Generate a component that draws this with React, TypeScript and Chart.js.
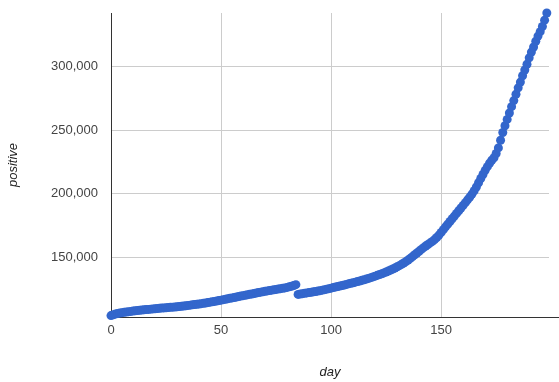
import React, { useEffect, useRef } from 'react';
import { Chart, registerables } from 'chart.js';

Chart.register(...registerables);

// positive cases per day (day = index, starting at 0)
const positive = [
  104700, 105400, 105900, 106300, 106700, 107000, 107300, 107500, 107800, 108000,
  108200, 108400, 108600, 108800, 109000, 109200, 109400, 109550, 109750, 109950,
  110100, 110250, 110400, 110550, 110700, 110850, 111000, 111150, 111300, 111450,
  111650, 111850, 112050, 112250, 112450, 112650, 112850, 113100, 113300, 113550,
  113800, 114050, 114300, 114600, 114900, 115200, 115500, 115800, 116100, 116450,
  116800, 117150, 117500, 117850, 118200, 118550, 118900, 119250, 119600, 119950,
  120300, 120650, 121000, 121350, 121650, 122000, 122350, 122700, 123050, 123400,
  123700, 124000, 124300, 124600, 124900, 125200, 125500, 125800, 126100, 126400,
  126750, 127200, 127700, 128200, 128900,
  121300, 121600, 121900, 122200, 122450, 122700, 123000, 123300, 123600, 123900,
  124200, 124600, 125000, 125400, 125800, 126200,
  126600, 127000, 127400, 127800, 128200, 128650, 129100, 129550, 130000, 130450,
  130900, 131350, 131800, 132300, 132800, 133300, 133800, 134400, 135000, 135600,
  136200, 136800, 137400, 138100, 138800, 139600, 140400, 141200, 142000, 142900,
  143800, 144800, 145900, 147000, 148200, 149500, 150900, 152300, 153700, 155100,
  156500, 157900, 159200, 160400, 161600, 162800, 164200, 165800, 167700, 169800,
  172000, 174200, 176300, 178400, 180500, 182600, 184700, 186800, 188900, 191000,
  193100, 195300, 197500, 199800, 202400, 205400, 208700, 212000, 215200, 218400,
  221300, 224000, 226300, 228300, 231600, 236000, 242000, 248000, 253300, 258300,
  263300, 268300, 273000, 278000, 283000, 287500, 292500, 297000, 301500, 306500,
  311000, 315000, 319500, 323500, 327000, 331000, 336000, 341600,
];

const xTicks = [0, 50, 100, 150];
const yTicks = [150000, 200000, 250000, 300000];

const FONT = '"Liberation Sans", Arial, sans-serif';

export default function App() {
  const ref = useRef<HTMLCanvasElement | null>(null);

  useEffect(() => {
    document.body.style.margin = '0';
    const canvas = ref.current;
    if (!canvas) return;

    const baselineExt = {
      id: 'baselineExt',
      afterDraw(chart: any) {
        const { ctx, chartArea, width } = chart;
        const y = Math.round(chartArea.bottom) + 0.5;
        ctx.save();
        ctx.strokeStyle = '#333333';
        ctx.lineWidth = 1;
        ctx.beginPath();
        ctx.moveTo(chartArea.right, y);
        ctx.lineTo(width, y);
        ctx.stroke();
        ctx.restore();
      },
    };

    const chart = new Chart(canvas, {
      type: 'scatter',
      data: {
        datasets: [
          {
            data: positive.map((v, i) => ({ x: i, y: v })),
            backgroundColor: '#3366cc',
            borderColor: '#3366cc',
            borderWidth: 0,
            pointRadius: 4.5,
            pointHoverRadius: 4.5,
            clip: false as any,
          },
        ],
      },
      options: {
        animation: false,
        responsive: false,
        events: [],
        layout: { autoPadding: false, padding: { top: 13, right: 10, bottom: 0, left: 0 } },
        plugins: { legend: { display: false }, tooltip: { enabled: false } },
        scales: {
          x: {
            type: 'linear',
            min: 0,
            max: 199,
            afterBuildTicks: (s: any) => {
              s.ticks = xTicks.map((v) => ({ value: v }));
            },
            afterFit: (s: any) => {
              s.height = 65;
              s.paddingLeft = 0;
              s.paddingRight = 0;
            },
            grid: { color: '#cccccc', drawTicks: false },
            border: { color: '#333333' },
            ticks: {
              padding: 6,
              color: '#444444',
              font: { family: FONT, size: 13 },
              callback: (v: any) => String(v),
            },
            title: {
              display: true,
              text: 'day',
              color: '#222222',
              font: { family: FONT, size: 13, style: 'italic' },
              padding: { top: 0, bottom: 1.5 },
            },
          },
          y: {
            type: 'linear',
            min: 103600,
            max: 341600,
            afterBuildTicks: (s: any) => {
              s.ticks = yTicks.map((v) => ({ value: v }));
            },
            afterFit: (s: any) => {
              s.width = 111;
              s.paddingTop = 0;
              s.paddingBottom = 0;
            },
            grid: { color: '#cccccc', drawTicks: false },
            border: { color: '#333333' },
            ticks: {
              padding: 13,
              color: '#444444',
              font: { family: FONT, size: 13 },
              callback: (v: any) => Number(v).toLocaleString('en-US'),
            },
            title: {
              display: true,
              text: 'positive',
              color: '#222222',
              font: { family: FONT, size: 13, style: 'italic' },
              padding: { top: 6, bottom: 0 },
            },
          },
        },
      },
      plugins: [baselineExt],
    });

    return () => chart.destroy();
  }, []);

  return (
    <div style={{ width: 559, height: 382 }}>
      <canvas ref={ref} width={559} height={382} style={{ display: 'block' }} />
    </div>
  );
}
